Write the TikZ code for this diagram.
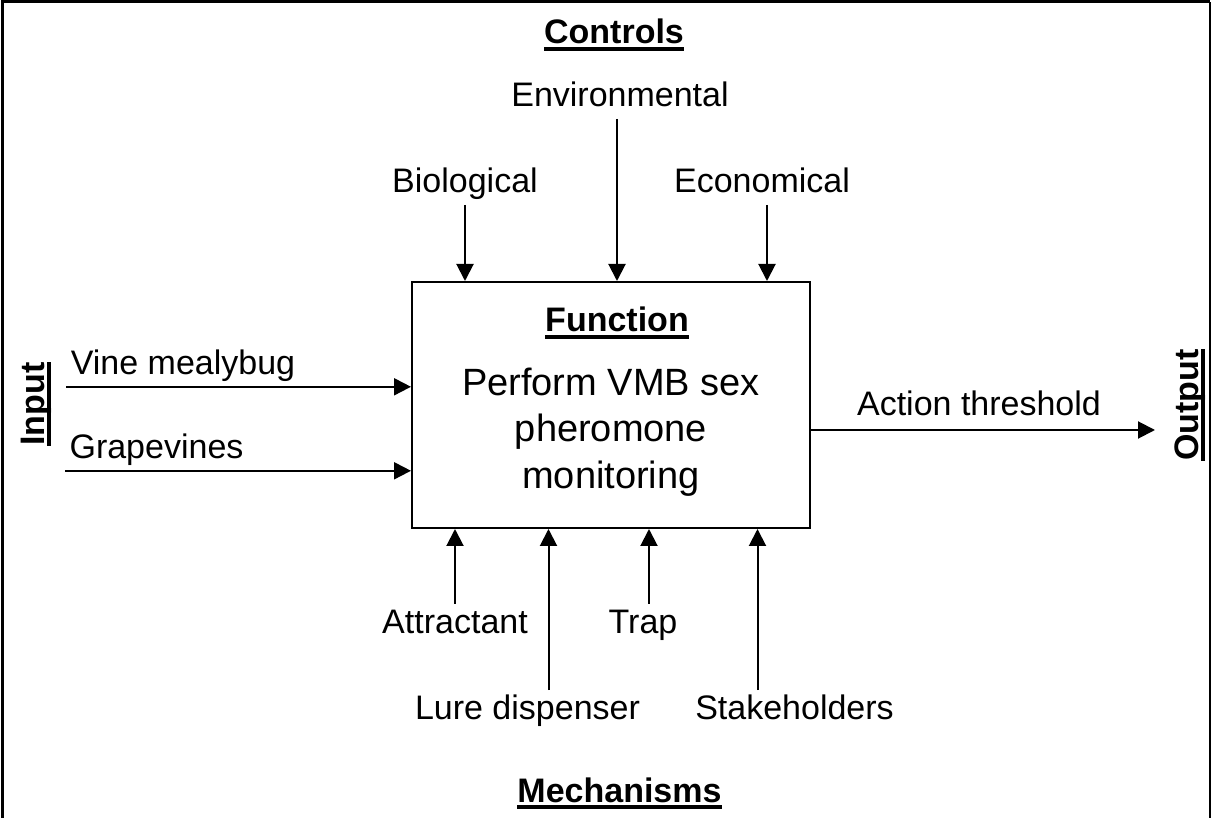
\documentclass[tikz,border=0pt]{standalone}
\usepackage{fontspec}
\setmainfont{Liberation Sans}
\usetikzlibrary{arrows.meta}

% underlined heading text
\newcommand{\ulabel}[1]{\setbox0\hbox{#1}\rlap{\vrule width\wd0 height -1.5pt depth 3.5pt}\box0}

\begin{document}
\begin{tikzpicture}[
    x=0.5pt, y=-0.5pt,
    lbl/.style={font=\fontsize{17}{20}\selectfont, inner sep=2pt, text height=12.3pt, text depth=3.7pt, anchor=base},
    heading/.style={lbl, font=\fontsize{17}{20}\selectfont\bfseries},
    func/.style={draw, line width=1pt, minimum width=199pt, minimum height=123pt},
    arrow/.style={-{Triangle[length=8.5pt, width=8.5pt]}, line width=1pt},
]

% Frame
\useasboundingbox (0,0) rectangle (1212,818);
\draw[line width=1.5pt] (2,818) -- (2,2) -- (1210,2);
\draw[line width=1pt] (1210,2) -- (1210,818);

% Function box
\node[func] (box) at (611,405) {};
\node[heading] (func) at (617,332) {\ulabel{Function}};
\node[align=center, font=\fontsize{19}{23.2}\selectfont] (task) at (611,432) {Perform VMB sex\\pheromone\\monitoring};

% Controls
\node[heading] (controls) at (614,44) {\ulabel{Controls}};
\node[lbl] (env) at (620,107) {Environmental};
\node[lbl] (bio) at (465,193) {Biological};
\node[lbl] (eco) at (762,193) {Economical};

% Input and output
\node[heading, rotate=90] (input) at (44,404) {\ulabel{Input}};
\node[lbl] (vine) at (183,375) {Vine mealybug};
\node[lbl] (grape) at (156.5,459) {Grapevines};
\node[lbl] (action) at (979,416) {Action threshold};
\node[heading, rotate=90] (output) at (1198,405) {\ulabel{Output}};
\coordinate (outend) at (1155,430);

% Mechanisms
\node[lbl] (attr) at (455,633) {Attractant};
\node[lbl] (trap) at (643,633) {Trap};
\node[lbl] (lure) at (527.5,719) {Lure dispenser};
\node[lbl] (stake) at (794.5,719) {Stakeholders};
\node[heading] (mech) at (619.5,802) {\ulabel{Mechanisms}};

%% === Arrows ===
\draw[arrow] (bio.south) -- (bio.south |- box.north);
\draw[arrow] ([xshift=-1.5pt]env.south) -- ([xshift=-1.5pt]env.south |- box.north);
\draw[arrow] ([xshift=2.5pt]eco.south) -- ([xshift=2.5pt]eco.south |- box.north);

\draw[arrow] (vine.south west) -- (vine.south west -| box.west);
\draw[arrow] (grape.south west) -- (grape.south west -| box.west);
\draw[arrow] (box.east |- outend) -- (outend);

\draw[arrow] (attr.north) -- (attr.north |- box.south);
\draw[arrow] ([xshift=3pt]trap.north) -- ([xshift=3pt]trap.north |- box.south);
\draw[arrow] ([xshift=10.5pt]lure.north) -- ([xshift=10.5pt]lure.north |- box.south);
\draw[arrow] ([xshift=-18.5pt]stake.north) -- ([xshift=-18.5pt]stake.north |- box.south);

\end{tikzpicture}
\end{document}
